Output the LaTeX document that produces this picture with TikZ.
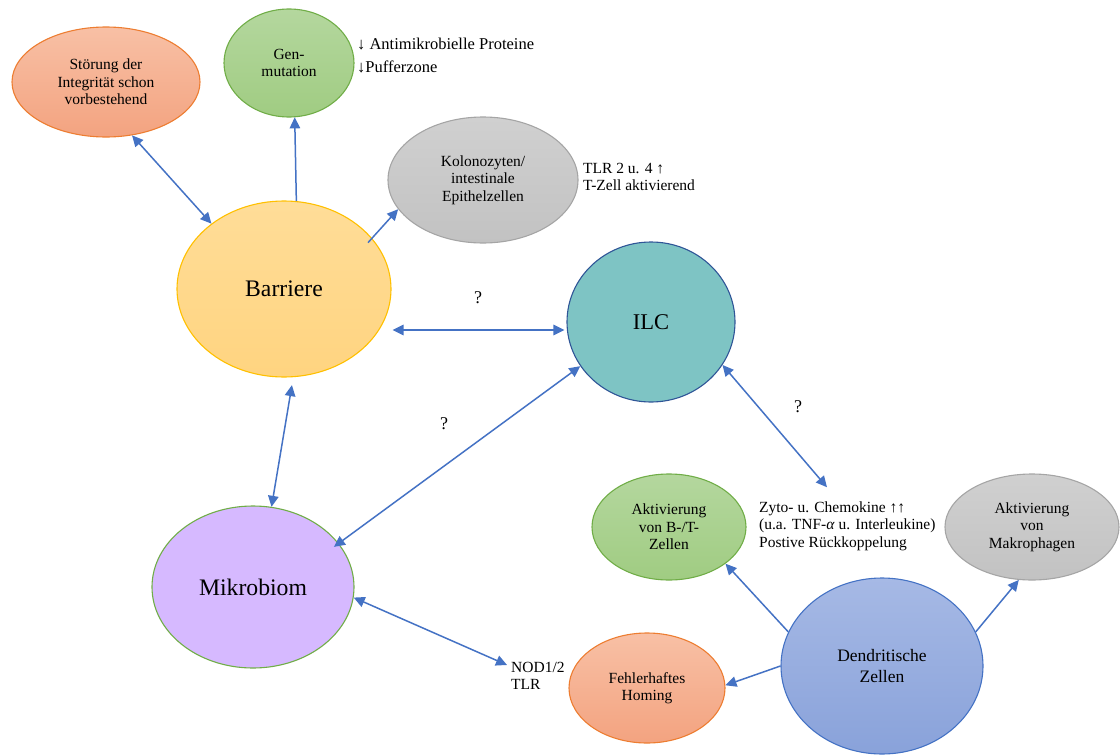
\documentclass[tikz,border=0pt]{standalone}
\usepackage{fontspec}
\setmainfont{Liberation Serif}
\usetikzlibrary{shapes.geometric,arrows.meta,calc}

\definecolor{linkblue}{HTML}{4472C4}
\definecolor{edgeorange}{HTML}{ED7D31}
\definecolor{edgegreen}{HTML}{70AD47}
\definecolor{edgegray}{HTML}{A5A5A5}
\definecolor{edgegold}{HTML}{FFC000}
\definecolor{edgenavy}{HTML}{2F5597}
\definecolor{edgeblue}{HTML}{4472C4}

\begin{document}
\begin{tikzpicture}[x=1pt,y=-1pt,
  bubble/.style={ellipse, draw, line width=1.1pt, inner sep=0pt, align=center,
    font=\fontsize{15.5}{17.5}\selectfont},
  orangeb/.style={bubble, draw=edgeorange, top color={rgb,255:red,248;green,192;blue,165}, bottom color={rgb,255:red,243;green,163;blue,128}},
  greenb/.style={bubble, draw=edgegreen, top color={rgb,255:red,180;green,215;blue,158}, bottom color={rgb,255:red,160;green,204;blue,130}},
  grayb/.style={bubble, draw=edgegray, top color={rgb,255:red,208;green,208;blue,208}, bottom color={rgb,255:red,194;green,194;blue,194}},
  goldb/.style={bubble, draw=edgegold, top color={rgb,255:red,255;green,221;blue,152}, bottom color={rgb,255:red,255;green,212;blue,128}},
  tealb/.style={bubble, draw=edgenavy, fill={rgb,255:red,126;green,196;blue,196}},
  lilacb/.style={bubble, draw=edgegreen, fill={rgb,255:red,214;green,185;blue,255}},
  blueb/.style={bubble, draw=edgeblue, top color={rgb,255:red,166;green,185;blue,229}, bottom color={rgb,255:red,137;green,162;blue,218}},
  note/.style={align=left, inner sep=0pt, anchor=west, font=\fontsize{15.5}{17.5}\selectfont},
  quest/.style={inner sep=0pt, font=\fontsize{18}{20}\selectfont},
  link/.style={draw=linkblue, line width=1.5pt, -{Triangle[length=11pt,width=10.5pt]}},
  biglink/.style={link, {Triangle[length=11pt,width=10.5pt]}-{Triangle[length=11pt,width=10.5pt]}}
]
\useasboundingbox (0,0) rectangle (1120,755);

% bubbles
\node[orangeb, minimum width=188pt, minimum height=110pt] (stoer) at (106,82)
  {Störung der\\Integrität schon\\vorbestehend};
\node[greenb, minimum width=130pt, minimum height=108pt] (gen) at (289,63)
  {Gen-\\mutation};
\node[grayb, minimum width=190pt, minimum height=126pt] (kolo) at (483,180)
  {Kolonozyten/\\intestinale\\Epithelzellen};
\node[goldb, minimum width=214pt, minimum height=176pt,
  font=\fontsize{23.7}{26}\selectfont] (barr) at (284,289) {Barriere};
\node[tealb, minimum width=168pt, minimum height=160pt,
  font=\fontsize{22.5}{26}\selectfont] (ilc) at (651,322) {ILC};
\node[lilacb, minimum width=202pt, minimum height=162pt,
  font=\fontsize{23.7}{26}\selectfont] (mik) at (253,587) {Mikrobiom};
\node[greenb, minimum width=154pt, minimum height=106pt] (bt) at (669,527)
  {Aktivierung\\von B-/T-\\Zellen};
\node[grayb, minimum width=174pt, minimum height=106pt] (makro) at (1032,527)
  {Aktivierung\\von\\Makrophagen};
\node[blueb, minimum width=202pt, minimum height=176pt,
  font=\fontsize{17.5}{21}\selectfont] (dend) at (882,666) {Dendritische\\Zellen};
\node[orangeb, minimum width=156pt, minimum height=110pt] (homing) at (647,688)
  {Fehlerhaftes\\Homing};

% annotations
\node[note, font=\fontsize{16.5}{23}\selectfont] (anti) at (357,55.5)
  {↓ Antimikrobielle Proteine\\↓Pufferzone};
\node[note] (tlr) at (583,177) {TLR 2 u. 4 ↑\\T-Zell aktivierend};
\node[note] (zyto) at (759,526)
  {Zyto- u. Chemokine ↑↑\\(u.a. TNF-\textit{α} u. Interleukine)\\Postive Rückkoppelung};
\node[note, font=\fontsize{15.5}{17}\selectfont] (nod) at (511,676) {NOD1/2\\TLR};

\node[quest] (q1) at (478,298) {?};
\node[quest] (q2) at (444,424) {?};
\node[quest] (q3) at (798,407) {?};

% connectors
\draw[biglink] (stoer.-64) -- (barr.138);
\draw[link] (barr.82) -- (gen.-84);
\draw[link, shorten <=-6pt] (barr.30) -- (kolo.199);
\draw[biglink] ($(barr.east |- ilc.west)+(1,8)$) -- ($(ilc.west)+(-2,8)$);
\draw[biglink, shorten <=8pt] (barr.-84) -- (mik.77);
\draw[biglink, shorten <=-6pt] (mik.27) -- (ilc.212);
\draw[biglink] (ilc.-31) -- ($(zyto.north west)+(68,-14)$);
\draw[biglink] (mik.-6) -- ($(nod.west)+(-4,-11)$);
\draw[link] (dend.160) -- (bt.-33);
\draw[link] (dend.180) -- (homing.2);
\draw[link] (dend.20) -- (makro.256);
\end{tikzpicture}
\end{document}
